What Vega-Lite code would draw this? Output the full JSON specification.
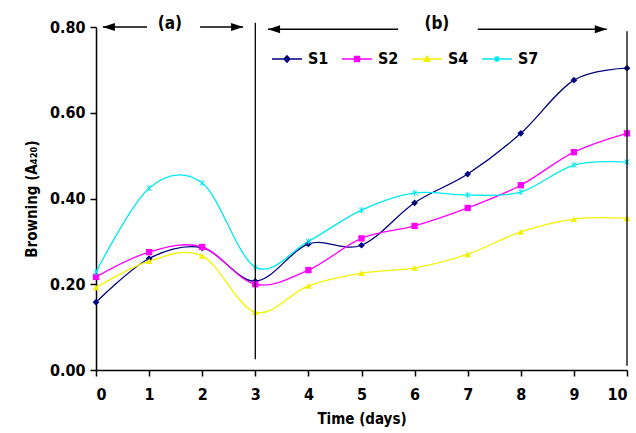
{
  "$schema": "https://vega.github.io/schema/vega-lite/v6.json",
  "width": 531,
  "height": 343,
  "autosize": "none",
  "padding": {"left": 96, "top": 27, "right": 9, "bottom": 63},
  "background": "white",
  "config": {
    "view": {"stroke": null},
    "font": "DejaVu Sans Condensed",
    "axis": {"grid": false, "domainColor": "#000", "tickColor": "#000", "labelColor": "#000", "titleColor": "#000", "labelFont": "DejaVu Sans Condensed", "titleFont": "DejaVu Sans Condensed", "labelFontWeight": "bold", "titleFontWeight": "bold", "labelFontSize": 16, "titleFontSize": 15, "domainWidth": 1.5, "tickWidth": 1.5, "tickSize": 6}
  },
  "data": {"values": [
    {"t":0,"v":0.158,"s":"S1"},{"t":1,"v":0.26,"s":"S1"},{"t":2,"v":0.285,"s":"S1"},{"t":3,"v":0.207,"s":"S1"},{"t":4,"v":0.294,"s":"S1"},{"t":5,"v":0.291,"s":"S1"},{"t":6,"v":0.39,"s":"S1"},{"t":7,"v":0.457,"s":"S1"},{"t":8,"v":0.552,"s":"S1"},{"t":9,"v":0.676,"s":"S1"},{"t":10,"v":0.704,"s":"S1"},
    {"t":0,"v":0.217,"s":"S2"},{"t":1,"v":0.275,"s":"S2"},{"t":2,"v":0.287,"s":"S2"},{"t":3,"v":0.2,"s":"S2"},{"t":4,"v":0.233,"s":"S2"},{"t":5,"v":0.307,"s":"S2"},{"t":6,"v":0.336,"s":"S2"},{"t":7,"v":0.378,"s":"S2"},{"t":8,"v":0.431,"s":"S2"},{"t":9,"v":0.508,"s":"S2"},{"t":10,"v":0.552,"s":"S2"},
    {"t":0,"v":0.192,"s":"S4"},{"t":1,"v":0.254,"s":"S4"},{"t":2,"v":0.266,"s":"S4"},{"t":3,"v":0.135,"s":"S4"},{"t":4,"v":0.196,"s":"S4"},{"t":5,"v":0.226,"s":"S4"},{"t":6,"v":0.238,"s":"S4"},{"t":7,"v":0.27,"s":"S4"},{"t":8,"v":0.322,"s":"S4"},{"t":9,"v":0.352,"s":"S4"},{"t":10,"v":0.354,"s":"S4"},
    {"t":0,"v":0.228,"s":"S7"},{"t":1,"v":0.424,"s":"S7"},{"t":2,"v":0.436,"s":"S7"},{"t":3,"v":0.24,"s":"S7"},{"t":4,"v":0.3,"s":"S7"},{"t":5,"v":0.373,"s":"S7"},{"t":6,"v":0.413,"s":"S7"},{"t":7,"v":0.408,"s":"S7"},{"t":8,"v":0.415,"s":"S7"},{"t":9,"v":0.478,"s":"S7"},{"t":10,"v":0.485,"s":"S7"}
  ]},
  "layer": [
    {
      "mark": {"type": "line", "interpolate": "cardinal", "strokeWidth": 1.3},
      "encoding": {
        "x": {"field": "t", "type": "quantitative", "scale": {"domain": [0, 10], "nice": false}, "axis": {"values": [0,1,2,3,4,5,6,7,8,9,10], "title": "Time (days)", "labelPadding": 10, "titlePadding": 9}},
        "y": {"field": "v", "type": "quantitative", "scale": {"domain": [0, 0.8], "nice": false}, "axis": {"values": [0,0.2,0.4,0.6,0.8], "format": ".2f", "title": "Browning (A₄₂₀)", "labelPadding": 5, "titlePadding": 10}},
        "color": {"field": "s", "type": "nominal", "scale": {"domain": ["S1","S2","S4","S7"], "range": ["#000080","#ff00ff","#f2f200","#00e8f0"]}, "legend": {
          "orient": "none", "legendX": 175, "legendY": 16, "direction": "horizontal", "title": null, "padding": 0,
          "symbolSize": 900, "labelFontSize": 16, "labelFontWeight": "bold", "labelColor": "#000", "labelOffset": 5, "columnPadding": 10,
          "labelFont": "DejaVu Sans Condensed",
          "encode": {"symbols": {"update": {
            "shape": {"signal": "datum.value === 'S1' ? 'M-1,0H1M0,-0.22L0.2,0L0,0.22L-0.2,0Z' : datum.value === 'S2' ? 'M-1,0H1M-0.17,-0.17H0.17V0.17H-0.17Z' : datum.value === 'S4' ? 'M-1,0H1M0,-0.2L0.2,0.15H-0.2Z' : 'M-1,0H1M-0.15,-0.15L0.15,0.15M0.15,-0.15L-0.15,0.15M0,-0.2V0.2'"},
            "stroke": {"scale": "color", "field": "value"},
            "fill": {"scale": "color", "field": "value"},
            "strokeWidth": {"value": 1.3},
            "size": {"value": 900},
            "opacity": {"value": 1}
          }}}
        }}
      }
    },
    {
      "transform": [{"filter": "datum.s === 'S1'"}],
      "mark": {"type": "point", "filled": true, "size": 45, "opacity": 1, "shape": "diamond", "color": "#000080"},
      "encoding": {"x": {"field": "t", "type": "quantitative"}, "y": {"field": "v", "type": "quantitative"}}
    },
    {
      "transform": [{"filter": "datum.s === 'S2'"}],
      "mark": {"type": "point", "filled": true, "size": 40, "opacity": 1, "shape": "square", "color": "#ff00ff"},
      "encoding": {"x": {"field": "t", "type": "quantitative"}, "y": {"field": "v", "type": "quantitative"}}
    },
    {
      "transform": [{"filter": "datum.s === 'S4'"}],
      "mark": {"type": "point", "filled": true, "size": 45, "opacity": 1, "shape": "triangle-up", "color": "#f2f200"},
      "encoding": {"x": {"field": "t", "type": "quantitative"}, "y": {"field": "v", "type": "quantitative"}}
    },
    {
      "transform": [{"filter": "datum.s === 'S7'"}],
      "mark": {"type": "point", "filled": false, "size": 25, "opacity": 1, "strokeWidth": 1, "shape": "M-1,-1L1,1M1,-1L-1,1M0,-1.2V1.2", "color": "#00e8f0"},
      "encoding": {"x": {"field": "t", "type": "quantitative"}, "y": {"field": "v", "type": "quantitative"}}
    },
    {
      "data": {"values": [{"x": 3, "y1": 0.025, "y2": 0.81}, {"x": 10, "y1": 0.01, "y2": 0.79}]},
      "mark": {"type": "rule", "color": "#000", "strokeWidth": 1.3},
      "encoding": {"x": {"field": "x", "type": "quantitative"}, "y": {"field": "y1", "type": "quantitative"}, "y2": {"field": "y2"}}
    },
    {
      "data": {"values": [{"x1": 0.13, "x2": 0.96, "y": 0.80}, {"x1": 1.96, "x2": 2.77, "y": 0.80}, {"x1": 3.24, "x2": 5.69, "y": 0.795}, {"x1": 7.19, "x2": 9.62, "y": 0.795}]},
      "mark": {"type": "rule", "color": "#000", "strokeWidth": 1.5},
      "encoding": {"x": {"field": "x1", "type": "quantitative"}, "x2": {"field": "x2"}, "y": {"field": "y", "type": "quantitative"}}
    },
    {
      "data": {"values": [{"x": 0.13, "y": 0.80}, {"x": 3.24, "y": 0.795}]},
      "mark": {"type": "point", "filled": true, "color": "#000", "size": 100, "opacity": 1, "shape": "M0,0L2.4,-0.8L2.4,0.8Z"},
      "encoding": {"x": {"field": "x", "type": "quantitative"}, "y": {"field": "y", "type": "quantitative"}}
    },
    {
      "data": {"values": [{"x": 2.77, "y": 0.80}, {"x": 9.62, "y": 0.795}]},
      "mark": {"type": "point", "filled": true, "color": "#000", "size": 100, "opacity": 1, "shape": "M0,0L-2.4,-0.8L-2.4,0.8Z"},
      "encoding": {"x": {"field": "x", "type": "quantitative"}, "y": {"field": "y", "type": "quantitative"}}
    },
    {
      "data": {"values": [{"x": 1.39, "y": 0.808, "label": "(a)"}, {"x": 6.42, "y": 0.808, "label": "(b)"}]},
      "mark": {"type": "text", "fontSize": 17, "fontWeight": "bold", "color": "#000", "baseline": "middle", "align": "center", "font": "DejaVu Sans Condensed"},
      "encoding": {"x": {"field": "x", "type": "quantitative"}, "y": {"field": "y", "type": "quantitative"}, "text": {"field": "label"}}
    }
  ]
}
